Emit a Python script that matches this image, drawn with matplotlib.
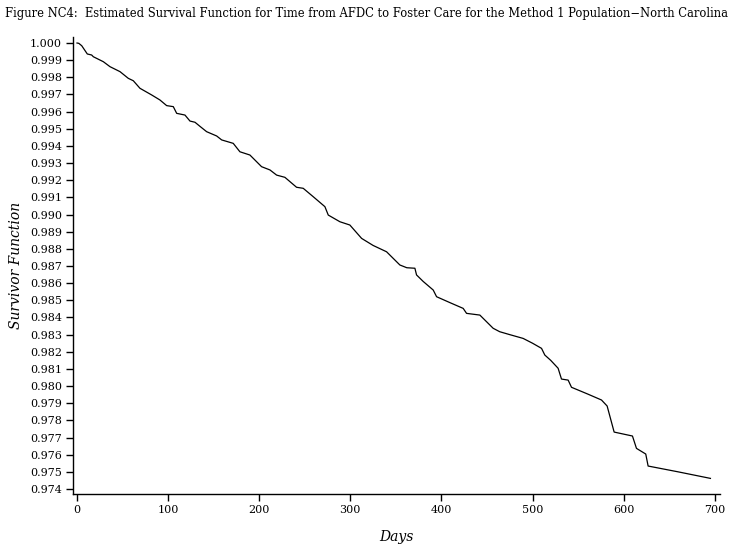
import matplotlib
matplotlib.use("Agg")
import matplotlib.pyplot as plt

title = "Figure NC4:  Estimated Survival Function for Time from AFDC to Foster Care for the Method 1 Population\u2212North Carolina"

days = [0, 2, 5.2, 11.3, 16.1, 17.9, 28.9, 36.2, 47.2, 56.3, 61.8, 69.1, 82, 91, 98.4, 105.7, 109.4,
        118.5, 124, 129.5, 135, 142.3, 153.3, 158.8, 171.5, 178.8, 189.8, 202.6, 211.8, 219.1, 228.2,
        241, 248.3, 259.3, 272.1, 275.8, 288.6, 299.5, 312.4, 325, 339.8, 354.4, 362, 370.9, 372.7,
        380, 391, 394.7, 410, 423.9, 427.6, 442.2, 456.8, 464, 475, 489.7, 500, 509.9, 513.5, 520,
        528.1, 531.8, 539.1, 542.8, 560, 575.7, 581.9, 589.6, 609.7, 614.1, 624.3, 626.9, 660, 695.3]
surv = [1.0000, 0.99998, 0.99984, 0.99936, 0.99930, 0.99920, 0.99891, 0.99862, 0.99833, 0.99794,
        0.99780, 0.99736, 0.99697, 0.99668, 0.99635, 0.99629, 0.99590, 0.99580, 0.99545, 0.99538,
        0.99514, 0.99483, 0.99458, 0.99435, 0.99415, 0.99366, 0.99347, 0.99279, 0.99260, 0.99230,
        0.99217, 0.99159, 0.99153, 0.99104, 0.99046, 0.98997, 0.98958, 0.98939, 0.98861, 0.98820,
        0.98783, 0.98706, 0.98690, 0.98687, 0.98648, 0.98610, 0.98560, 0.98521, 0.98485, 0.98453,
        0.98424, 0.98414, 0.98337, 0.98317, 0.98300, 0.98278, 0.98250, 0.98220, 0.98181, 0.98150,
        0.98104, 0.98041, 0.98035, 0.97993, 0.97955, 0.97919, 0.97884, 0.97732, 0.97709, 0.97637,
        0.97604, 0.97534, 0.97500, 0.97462]

xticks = [0, 100, 200, 300, 400, 500, 600, 700]
yticks = [0.974 + 0.001 * i for i in range(27)]
ytick_labels = ["%.3f" % v for v in yticks]

fig = plt.figure(figsize=(7.33, 5.5), dpi=100)
ax = fig.add_axes([73/733, 1 - 494/550, (720 - 73)/733, (494 - 37)/550])
ax.plot(days, surv, color="black", linewidth=0.9)

ax.set_xlim(-4.4, 705.8)
ax.set_ylim(0.97371, 1.00035)
ax.set_xticks(xticks)
ax.set_xticklabels([str(x) for x in xticks], fontsize=8, family="DejaVu Serif")
ax.set_yticks(yticks)
ax.set_yticklabels(ytick_labels, fontsize=8, family="DejaVu Serif")
ax.tick_params(direction="out", length=5, width=1, pad=3)
for s in ["top", "right"]:
    ax.spines[s].set_visible(False)
for s in ["left", "bottom"]:
    ax.spines[s].set_linewidth(1)

ax.set_ylabel("Survivor Function", fontsize=10, family="DejaVu Serif", style="italic", labelpad=5)
ax.set_xlabel("Days", fontsize=10, family="DejaVu Serif", style="italic", labelpad=11)
fig.text(0.5, 1 - 13/550, title, ha="center", va="center", fontsize=8.3, family="DejaVu Serif")

fig.savefig("out.png", dpi=100)
